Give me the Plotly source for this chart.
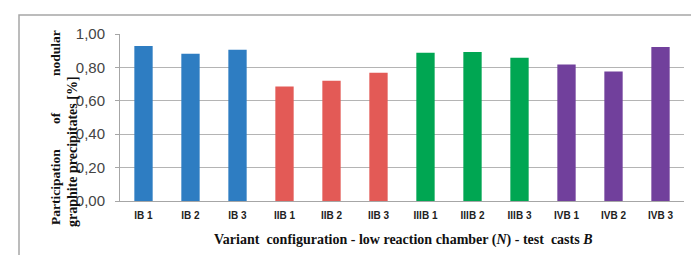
import plotly.graph_objects as go

categories = ["IB 1", "IB 2", "IB 3", "IIB 1", "IIB 2", "IIB 3",
              "IIIB 1", "IIIB 2", "IIIB 3", "IVB 1", "IVB 2", "IVB 3"]
values = [0.928, 0.882, 0.906, 0.686, 0.720, 0.768,
          0.888, 0.892, 0.858, 0.818, 0.776, 0.922]
group_colors = ["#2e7dc2"] * 3 + ["#e35a56"] * 3 + ["#00a652"] * 3 + ["#71409c"] * 3
y_ticks = [0, 0.2, 0.4, 0.6, 0.8, 1.0]
y_tick_labels = ["0,00", "0,20", "0,40", "0,60", "0,80", "1,00"]

W, H = 699, 255
L, R, T, B = 112, 23, 26, 62
pw, ph = W - L - R, H - T - B

def px(x):
    return (x - L) / pw

def py(y):
    return (H - B - y) / ph

fig = go.Figure(go.Bar(x=[f"<b>{c}</b>" for c in categories], y=values, marker_color=group_colors,
                       marker_line_width=0, width=0.39))

serif = "Liberation Serif, Times New Roman, serif"
ann = []
# y-axis title (two lines, justified first line)
for word, yc in [("Participation", 179), ("of", 110), ("nodular", 45)]:
    ann.append(dict(text=f"<b>{word}</b>", x=px(47), y=py(yc), xref="paper", yref="paper",
                    xanchor="center", yanchor="middle",
                    textangle=-90, showarrow=False, font=dict(family=serif, size=13.5, color="#111")))
ann.append(dict(text="<b>graphite precipitates [%]</b>", x=px(64), y=py(144), xref="paper", yref="paper",
                xanchor="center", yanchor="middle",
                textangle=-90, showarrow=False, font=dict(family=serif, size=14, color="#111")))
ann.append(dict(text="<b>Variant  configuration - low reaction chamber (<i>N</i>) - test  casts <i>B</i></b>",
                x=px(395), y=py(232), xref="paper", yref="paper", showarrow=False,
                xanchor="center", yanchor="middle",
                font=dict(family=serif, size=14, color="#111")))

fig.update_layout(
    width=W, height=H,
    margin=dict(l=L, r=R, t=T, b=B),
    paper_bgcolor="white", plot_bgcolor="white",
    showlegend=False,
    annotations=ann,
    shapes=[dict(type="rect", xref="paper", yref="paper",
                 x0=px(11), x1=px(693), y0=py(300), y1=py(7),
                 line=dict(color="#a6a6a6", width=1.5), fillcolor="rgba(0,0,0,0)")],
    bargap=0.6,
)
fig.update_xaxes(showline=True, linecolor="#a6a6a6", linewidth=1,
                 tickfont=dict(family="Liberation Sans, Arial", size=10, color="#222"),
                 ticks="outside", ticklen=5, tickcolor="rgba(0,0,0,0)", showgrid=False)
fig.update_yaxes(range=[0, 1.0], tickvals=y_ticks, ticktext=y_tick_labels,
                 showgrid=True, gridcolor="#b4b4b4", gridwidth=1,
                 showline=True, linecolor="#a6a6a6", linewidth=1,
                 ticks="outside", ticklen=11, tickcolor="rgba(0,0,0,0)",
                 minor=dict(tickvals=y_ticks, ticks="outside", ticklen=4, tickcolor="#a6a6a6", showgrid=False),
                 tickfont=dict(family="Liberation Sans, Arial", size=15, color="#444"),
                 zeroline=False)

fig.write_html("out.html")
